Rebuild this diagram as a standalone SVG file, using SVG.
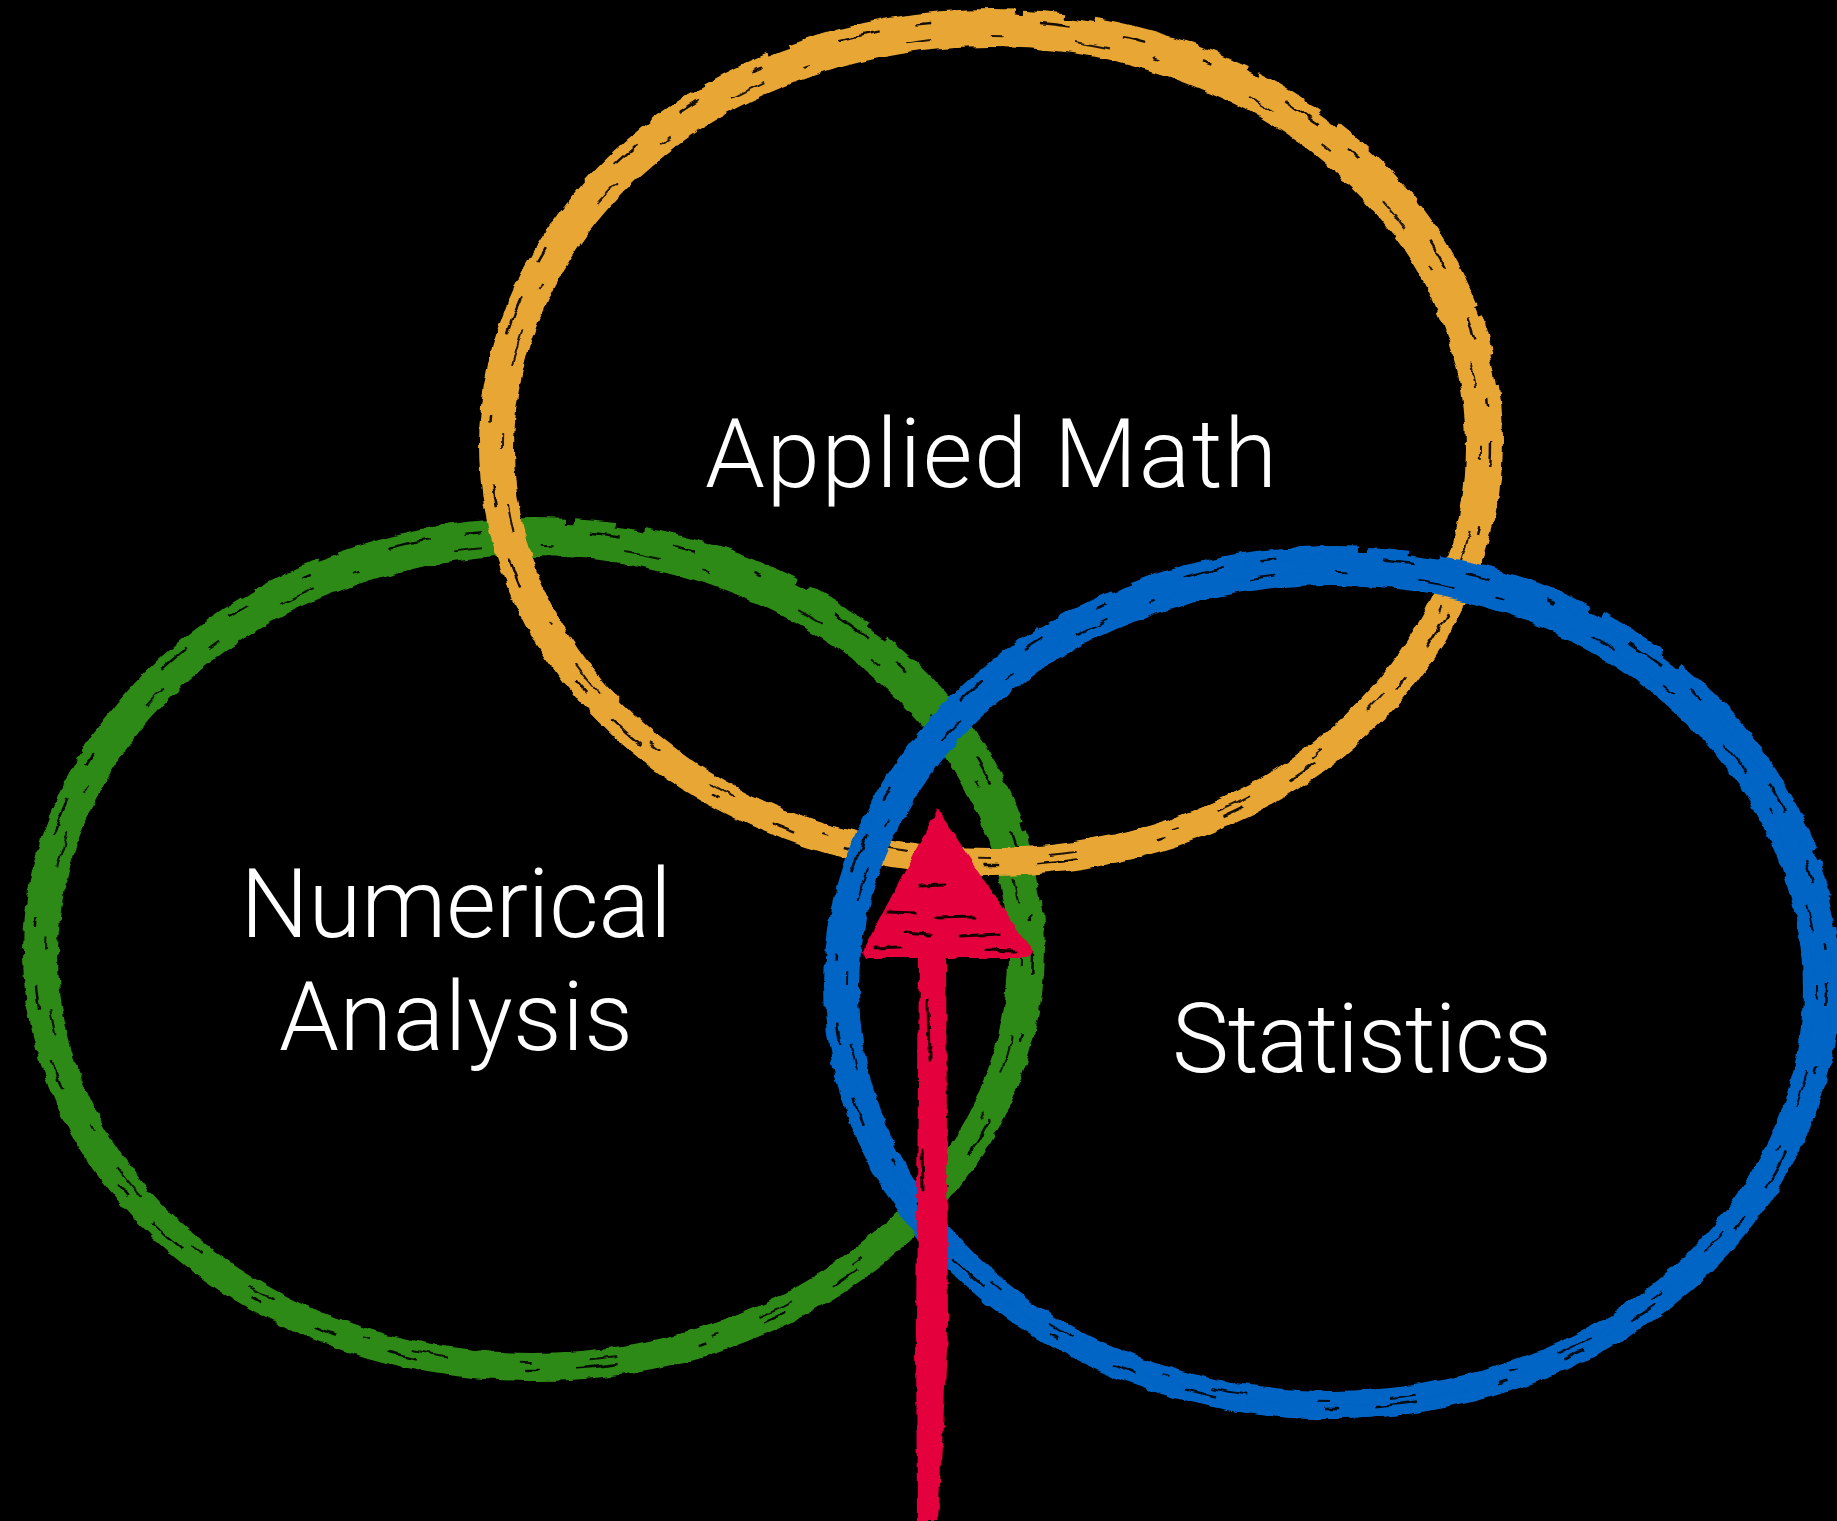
<svg xmlns="http://www.w3.org/2000/svg" width="1837" height="1521" viewBox="0 0 1837 1521">
<defs>
<filter id="rough" x="-5%" y="-5%" width="110%" height="110%">
  <feTurbulence type="fractalNoise" baseFrequency="0.05 0.09" numOctaves="2" seed="7" result="n"/>
  <feDisplacementMap in="SourceGraphic" in2="n" scale="7" xChannelSelector="R" yChannelSelector="G"/>
</filter>
<filter id="rough2" x="-10%" y="-5%" width="120%" height="110%">
  <feTurbulence type="fractalNoise" baseFrequency="0.08" numOctaves="2" seed="3" result="n"/>
  <feDisplacementMap in="SourceGraphic" in2="n" scale="6" xChannelSelector="R" yChannelSelector="G"/>
</filter>
</defs>
<style>
.ring{fill:none}
.main{stroke-width:28}
.side{stroke-width:26}
.thin{stroke-width:8;stroke-dasharray:160 14 70 22 230 9 40 31}
.gap{stroke:#000;stroke-width:2.5;stroke-dasharray:23 61 9 83 41 37 15 109 31 53;opacity:0.9}
.gap2{stroke:#000;stroke-width:2;stroke-dasharray:13 71 37 43 7 97 27 59;opacity:0.85}
.orange{stroke:#E8A736}
.green{stroke:#2F8A18}
.blue{stroke:#0165C4}
.lbl{font-family:Roboto,Lato,"Liberation Sans",Arial,sans-serif;font-weight:300;font-size:96px;fill:#fff;text-anchor:middle;font-variant-ligatures:none}
</style>
<rect width="1837" height="1521" fill="#000"/>
<g id="numerical-analysis">
  <g filter="url(#rough)">
    <ellipse class="ring main green" cx="533" cy="952" rx="496" ry="415"/>
    <ellipse class="ring side green" cx="533" cy="955" rx="488" ry="412"/>
    <ellipse class="ring thin green" cx="536" cy="947" rx="505" ry="425"/>
    <ellipse class="ring thin green" cx="531" cy="956" rx="484" ry="407"/>
    <ellipse class="ring gap" cx="533" cy="950" rx="499" ry="420"/>
    <ellipse class="ring gap2" cx="534" cy="954" rx="488" ry="409"/>
  </g>
  <text class="lbl" x="456" y="937" textLength="431">Numerical</text>
  <text class="lbl" x="456" y="1050" textLength="354">Analysis</text>
</g>
<g id="applied-math">
  <g filter="url(#rough)">
    <ellipse class="ring main orange" cx="990" cy="445" rx="497" ry="417"/>
    <ellipse class="ring side orange" cx="990" cy="448" rx="489" ry="414"/>
    <ellipse class="ring thin orange" cx="993" cy="440" rx="506" ry="427"/>
    <ellipse class="ring thin orange" cx="988" cy="449" rx="485" ry="409"/>
    <ellipse class="ring gap" cx="990" cy="443" rx="500" ry="422"/>
    <ellipse class="ring gap2" cx="991" cy="447" rx="489" ry="411"/>
  </g>
  <text class="lbl" x="991" y="487" font-size="98" textLength="572">Applied Math</text>
</g>
<g id="statistics">
  <g filter="url(#rough)">
    <ellipse class="ring main blue" cx="1331" cy="985" rx="493" ry="420"/>
    <ellipse class="ring side blue" cx="1331" cy="989" rx="485" ry="417"/>
    <ellipse class="ring thin blue" cx="1334" cy="980" rx="502" ry="430"/>
    <ellipse class="ring thin blue" cx="1329" cy="989" rx="481" ry="412"/>
    <ellipse class="ring gap" cx="1331" cy="983" rx="496" ry="425"/>
    <ellipse class="ring gap2" cx="1332" cy="987" rx="485" ry="414"/>
  </g>
  <text class="lbl" x="1362" y="1072" textLength="380">Statistics</text>
</g>
<g id="connectors">
  <g id="arrow" filter="url(#rough2)">
    <polygon fill="#E4003C" points="938,808 945,822 1033,952 1028,958 865,958 862,952 931,822"/>
    <polygon fill="#E4003C" points="919,955 946,955 948,1330 938,1521 917,1521 916,1330"/>
    <g stroke="#000" stroke-width="3" stroke-linecap="round" opacity="0.9">
      <line x1="888" y1="912" x2="915" y2="913"/>
      <line x1="935" y1="918" x2="975" y2="917"/>
      <line x1="905" y1="933" x2="930" y2="935"/>
      <line x1="960" y1="936" x2="1000" y2="934"/>
      <line x1="920" y1="886" x2="945" y2="885"/>
      <line x1="875" y1="948" x2="900" y2="947"/>
      <line x1="985" y1="950" x2="1015" y2="951"/>
      <line x1="928" y1="1000" x2="929" y2="1060"/>
      <line x1="922" y1="1150" x2="923" y2="1190"/>
    </g>
  </g>
</g>
</svg>
